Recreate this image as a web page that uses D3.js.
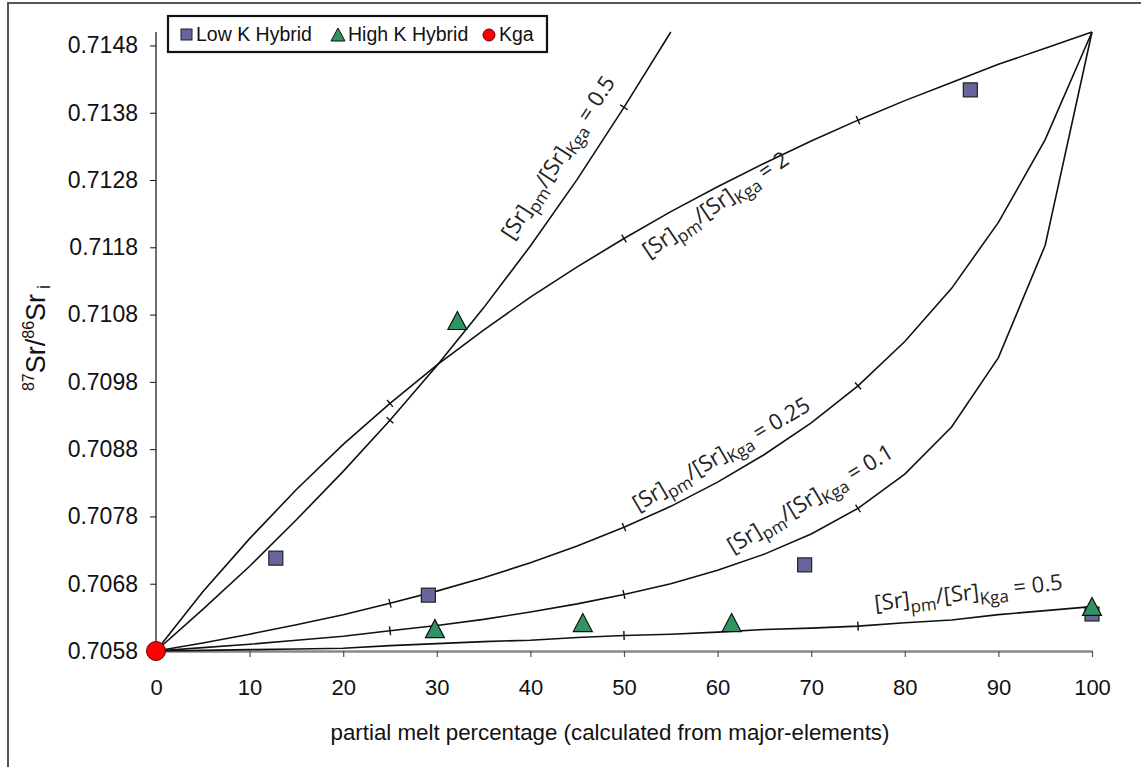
<!DOCTYPE html>
<html><head><meta charset="utf-8">
<script src="https://cdn.jsdelivr.net/npm/d3@7"></script>
<style>
html,body{margin:0;padding:0;background:#fff;}
svg{display:block;}
text{font-family:"Liberation Sans",Arial,sans-serif;fill:#111;}
.lbl{font-family:"Open Sans","Noto Sans",sans-serif;fill:#222;}
</style></head>
<body>
<svg id="c" width="1141" height="767"></svg>
<script>
// ---- data ----
const xTicks = [0,10,20,30,40,50,60,70,80,90,100];
const yTicks = [0.7058,0.7068,0.7078,0.7088,0.7098,0.7108,0.7118,0.7128,0.7138,0.7148];
const meltSteps = [0,5,10,15,20,25,30,35,40,45,50,55,60,65,70,75,80,85,90,95,100];
const steepSteps = [0,5,10,15,20,25,30,35,40,45,50,55];
// mixing curves
const curveSteep05 = [0.70580,0.70642,0.70706,0.70775,0.70847,0.70923,0.71004,0.71090,0.71182,0.71281,0.71388,0.71500];
const curveRatio2 = [0.70580,0.70668,0.70747,0.70820,0.70887,0.70948,0.71005,0.71057,0.71106,0.71151,0.71193,0.71233,0.71270,0.71305,0.71338,0.71369,0.71398,0.71425,0.71452,0.71476,0.71500];
const curveRatio025 = [0.70580,0.70592,0.70605,0.70619,0.70634,0.70651,0.70669,0.70689,0.70711,0.70736,0.70764,0.70795,0.70831,0.70872,0.70919,0.70974,0.71040,0.71119,0.71217,0.71340,0.71500];
const curveRatio01 = [0.70580,0.70585,0.70590,0.70596,0.70602,0.70610,0.70618,0.70627,0.70638,0.70650,0.70664,0.70680,0.70700,0.70724,0.70754,0.70792,0.70843,0.70913,0.71016,0.71183,0.71500];
const curveLow05 = [0.70580,0.70581,0.70582,0.70583,0.70584,0.70588,0.70591,0.70594,0.70596,0.70600,0.70603,0.70605,0.70608,0.70612,0.70614,0.70617,0.70622,0.70626,0.70634,0.70640,0.70646];
// samples
const lowKx = [12.8,29.1,69.3,87.0,100];
const lowKy = [0.70718,0.70663,0.70708,0.71414,0.70635];
const highKx = [32.2,29.8,45.6,61.5,100];
const highKy = [0.71069,0.70611,0.70620,0.70620,0.70644];
const kgaX = [0];
const kgaY = [0.7058];
const legendNames = ["Low K Hybrid","High K Hybrid","Kga"];
const curveRatioText = ["0.5","2","0.25","0.1","0.5"];

// ---- layout ----
const svg = d3.select("#c");
const x = d3.scaleLinear().domain([0,100]).range([156,1092]);
const y = d3.scaleLinear().domain([0.7058,0.7150]).range([651,32]);

// frame lines (top, left)
svg.append("line").attr("x1",7).attr("x2",1141).attr("y1",3).attr("y2",3).attr("stroke","#555").attr("stroke-width",2);
svg.append("line").attr("x1",8).attr("x2",8).attr("y1",3).attr("y2",767).attr("stroke","#555").attr("stroke-width",2);

// y axis
const yAxis = d3.axisLeft(y).tickValues(yTicks).tickFormat(d3.format(".4f")).tickSize(6).tickSizeOuter(0);
const gy = svg.append("g").attr("transform",`translate(${x(0)},0)`).call(yAxis);
gy.select(".domain").attr("stroke","#111").attr("stroke-width",1.2).attr("d",`M0,${y(0.7150)}V${y(0.7058)}`);
gy.selectAll(".tick line").attr("stroke","#111");
gy.selectAll(".tick text").attr("font-size",23).attr("font-family","Liberation Sans, Arial, sans-serif").attr("fill","#111").attr("x",-18);

// x axis
const xAxis = d3.axisBottom(x).tickValues(xTicks).tickFormat(d3.format("d")).tickSize(6).tickSizeOuter(0);
const gx = svg.append("g").attr("transform",`translate(0,${y(0.7058)})`).call(xAxis);
gx.select(".domain").attr("stroke","#888").attr("stroke-width",2.5);
gx.selectAll(".tick line").attr("stroke","#555").attr("stroke-width",1.2);
gx.selectAll(".tick text").attr("font-size",22).attr("font-family","Liberation Sans, Arial, sans-serif").attr("fill","#111").attr("y",28);

// axis titles
svg.append("text").attr("x",610).attr("y",740).attr("text-anchor","middle").attr("font-size",22.3)
  .text("partial melt percentage (calculated from major-elements)");
const yt = svg.append("text").attr("transform","translate(45,338) rotate(-90)").attr("text-anchor","middle").attr("font-size",27);
yt.append("tspan").attr("font-size",16).attr("dy",-11).text("87");
yt.append("tspan").attr("dy",11).text("Sr/");
yt.append("tspan").attr("font-size",16).attr("dy",-11).text("86");
yt.append("tspan").attr("dy",11).text("Sr");
yt.append("tspan").attr("font-size",18).attr("dy",5).text(" i");

// curves
const line = d3.line().x(d=>x(d[0])).y(d=>y(d[1]));
const curves = [
  {xs:steepSteps, ys:curveSteep05, marks:[25,50]},
  {xs:meltSteps, ys:curveRatio2, marks:[25,50,75]},
  {xs:meltSteps, ys:curveRatio025, marks:[25,50,75]},
  {xs:meltSteps, ys:curveRatio01, marks:[25,50,75]},
  {xs:meltSteps, ys:curveLow05, marks:[50,75]}
];
curves.forEach(c=>{
  const pts = c.xs.map((v,i)=>[v,c.ys[i]]);
  svg.append("path").attr("d",line(pts)).attr("fill","none").attr("stroke","#111").attr("stroke-width",1.6);
  c.marks.forEach(m=>{
    const i = c.xs.indexOf(m);
    const p0 = [x(c.xs[i-1]),y(c.ys[i-1])], p2=[x(c.xs[i+1]),y(c.ys[i+1])], p=[x(c.xs[i]),y(c.ys[i])];
    let dx=p2[0]-p0[0], dy=p2[1]-p0[1]; const L=Math.hypot(dx,dy); dx/=L; dy/=L;
    const h=4.5;
    svg.append("line").attr("x1",p[0]-dy*h).attr("y1",p[1]+dx*h).attr("x2",p[0]+dy*h).attr("y2",p[1]-dx*h)
      .attr("stroke","#111").attr("stroke-width",1.4);
  });
});

// curve labels: center in data coords + angle
const labelPos = [
  {cx:43.0, cy:0.71313, a:-57},
  {cx:59.8, cy:0.71243, a:-34},
  {cx:60.4, cy:0.70872, a:-30.5},
  {cx:69.9, cy:0.70806, a:-31},
  {cx:86.8, cy:0.70666, a:-6.5}
];
labelPos.forEach((lp,k)=>{
  const t = svg.append("text").attr("class","lbl").attr("text-anchor","middle").attr("font-size",22)
    .attr("transform",`translate(${x(lp.cx)},${y(lp.cy)}) rotate(${lp.a}) translate(0,7)`);
  t.append("tspan").text("[Sr]");
  t.append("tspan").attr("font-size",17).attr("dy",6).text("pm");
  t.append("tspan").attr("dy",-6).text("/[Sr]");
  t.append("tspan").attr("font-size",17).attr("dy",6).text("Kga");
  t.append("tspan").attr("dy",-6).text(" = "+curveRatioText[k]);
});

// markers
const sq=14;
svg.selectAll(".lowk").data(lowKx.map((v,i)=>[v,lowKy[i]])).join("rect")
  .attr("x",d=>x(d[0])-sq/2).attr("y",d=>y(d[1])-sq/2).attr("width",sq).attr("height",sq)
  .attr("fill","#66669c").attr("stroke","#222").attr("stroke-width",1.2);
const tri="M0,-10.5L9.5,7.5L-9.5,7.5Z";
svg.selectAll(".highk").data(highKx.map((v,i)=>[v,highKy[i]])).join("path")
  .attr("d",tri).attr("transform",d=>`translate(${x(d[0])},${y(d[1])})`)
  .attr("fill","#2f9462").attr("stroke","#111").attr("stroke-width",1.2);
svg.selectAll(".kga").data(kgaX.map((v,i)=>[v,kgaY[i]])).join("circle")
  .attr("cx",d=>x(d[0])).attr("cy",d=>y(d[1])).attr("r",9.5)
  .attr("fill","#ff0000").attr("stroke","#600").attr("stroke-width",1);

// legend
const lg = svg.append("g");
lg.append("rect").attr("x",168).attr("y",16).attr("width",379).attr("height",36).attr("fill","#fff").attr("stroke","#111").attr("stroke-width",2.2);
lg.append("rect").attr("x",181).attr("y",29).attr("width",11).attr("height",11).attr("fill","#66669c").attr("stroke","#222");
lg.append("text").attr("x",196).attr("y",41).attr("font-size",19.5).text(legendNames[0]);
lg.append("path").attr("d","M0,-7L7,6L-7,6Z").attr("transform","translate(338,35)").attr("fill","#2f9462").attr("stroke","#111");
lg.append("text").attr("x",348).attr("y",41).attr("font-size",19.5).text(legendNames[1]);
lg.append("circle").attr("cx",489).attr("cy",35).attr("r",6).attr("fill","#ff0000").attr("stroke","#600");
lg.append("text").attr("x",499).attr("y",41).attr("font-size",19.5).text(legendNames[2]);
</script>
</body></html>
